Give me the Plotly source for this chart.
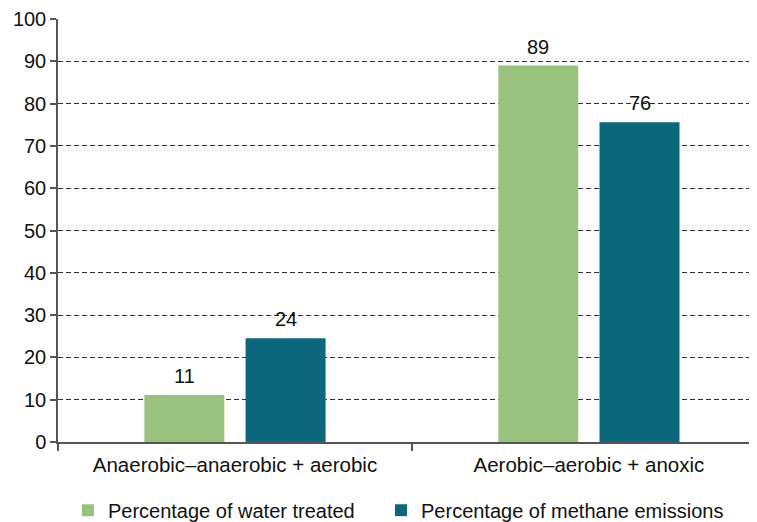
import plotly.graph_objects as go

categories = ["Anaerobic–anaerobic + aerobic", "Aerobic–aerobic + anoxic"]
water_treated = [11.1, 89.0]
methane_emissions = [24.5, 75.6]
water_labels = ["11", "89"]
methane_labels = ["24", "76"]
y_ticks = list(range(0, 101, 10))

FONT = "Liberation Sans, Arial, sans-serif"
FS = 20
BARGAP = 0.428
SLOT = (1 - BARGAP) / 2  # width of one bar slot within a group (category units)

fig = go.Figure()
fig.add_trace(go.Bar(
    x=categories, y=water_treated, name="Percentage of water treated",
    marker=dict(color="#98C27D", line=dict(width=0)), legend="legend",
))
fig.add_trace(go.Bar(
    x=categories, y=methane_emissions, name="Percentage of methane emissions",
    marker=dict(color="#0B687C", line=dict(width=0)), legend="legend2",
))

# value labels above bars, positioned via the category axis
for i in range(len(categories)):
    for vals, labs, off in ((water_treated, water_labels, -SLOT / 2),
                            (methane_emissions, methane_labels, SLOT / 2)):
        fig.add_annotation(x=i + off, y=vals[i], text=labs[i], showarrow=False,
                           xref="x", yref="y", yanchor="bottom", yshift=6,
                           font=dict(size=FS, family=FONT, color="#111111"))

legend_common = dict(orientation="h", xref="container", yref="container",
                     xanchor="left", y=0.061, yanchor="top",
                     font=dict(size=FS, family=FONT), itemwidth=30,
                     bgcolor="rgba(0,0,0,0)")

fig.update_layout(
    width=749, height=514,
    margin=dict(l=50, r=0, t=11, b=80, autoexpand=False),
    plot_bgcolor="white", paper_bgcolor="white",
    font=dict(family=FONT, size=FS, color="#111111"),
    barmode="group", bargap=BARGAP, bargroupgap=0.21,
    showlegend=True,
    legend=dict(x=0.080, **legend_common),
    legend2=dict(x=0.498, **legend_common),
)
fig.update_xaxes(
    type="category", range=[-0.5, 1.475], automargin=False,
    showline=True, linecolor="#555555", linewidth=1.5,
    ticks="outside", tickson="boundaries", ticklen=7, tickcolor="#555555", tickwidth=1.5,
    showgrid=False, tickfont=dict(size=20.5, family=FONT), ticklabelstandoff=4,
)
fig.update_yaxes(
    range=[0, 100], tickvals=y_ticks, automargin=False,
    showline=True, linecolor="#555555", linewidth=1.5,
    ticks="outside", ticklen=6, tickcolor="#555555", tickwidth=1.5,
    showgrid=True, gridcolor="#333333", gridwidth=1, griddash="5px,3px",
    zeroline=False, tickfont=dict(size=FS, family=FONT),
)

fig.write_html("out.html")
